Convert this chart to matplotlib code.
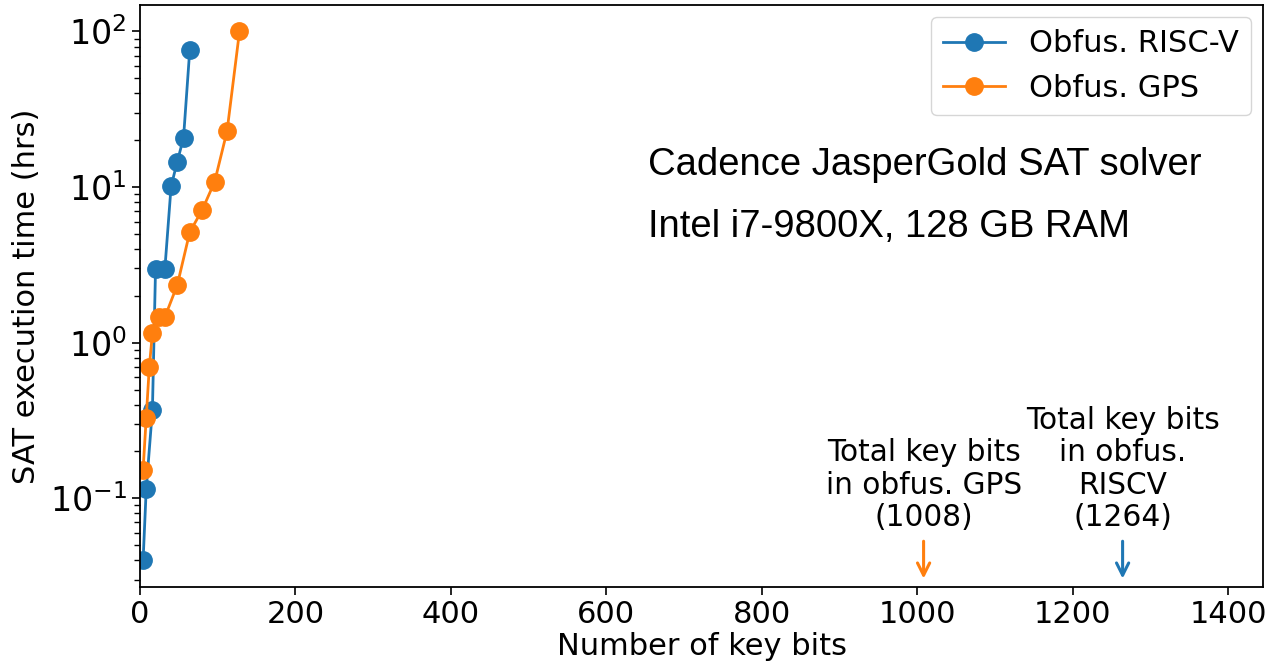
import matplotlib
matplotlib.use("Agg")
import matplotlib.pyplot as plt

# Key-bit counts and SAT solve times (hours)
riscv_bits = [4, 8, 16, 20, 32, 40, 48, 56, 64]
riscv_hours = [0.040, 0.114, 0.372, 2.98, 2.98, 10.1, 14.6, 20.7, 75.9]

gps_bits = [4, 8, 12, 16, 24, 32, 48, 64, 80, 96, 112, 128]
gps_hours = [0.153, 0.328, 0.70, 1.15, 1.46, 1.46, 2.35, 5.13, 7.13, 10.8, 22.9, 100.0]

# Total key bits of each obfuscated design
total_bits = {"GPS": 1008, "RISCV": 1264}
total_labels = {
    "GPS": "Total key bits\nin obfus. GPS\n(1008)",
    "RISCV": "Total key bits\nin obfus.\nRISCV\n(1264)",
}

BLUE = "#1f77b4"
ORANGE = "#ff7f0e"
FS = 22

fig = plt.figure(figsize=(12.68, 6.69), dpi=100)
ax = fig.add_axes([0.1104, 0.123, 0.8859, 0.8695])

ax.plot(riscv_bits, riscv_hours, "-o", color=BLUE, lw=2, ms=12.5, label="Obfus. RISC-V")
ax.plot(gps_bits, gps_hours, "-o", color=ORANGE, lw=2, ms=12.5, label="Obfus. GPS")
ax.set_yscale("log")
ax.set_xlim(0, 1445)

ax.set_xlabel("Number of key bits", fontsize=FS, labelpad=2)
ax.set_ylabel("SAT execution time (hrs)", fontsize=FS, labelpad=6)
ax.tick_params(axis="x", which="major", labelsize=FS)
ax.tick_params(axis="y", which="major", labelsize=24)
ax.tick_params(axis="both", which="major", length=6, width=1.2)
ax.tick_params(axis="both", which="minor", length=4, width=1.0)
for sp in ax.spines.values():
    sp.set_linewidth(1.3)

ax.legend(loc="upper right", fontsize=FS, borderaxespad=0.4)

# Arrows marking the total key bits of each design
for key, col in (("GPS", ORANGE), ("RISCV", BLUE)):
    xb = total_bits[key]
    ax.annotate("", xy=(xb, 0.0305), xytext=(xb, 0.053),
                arrowprops=dict(arrowstyle="->", color=col, lw=2.2,
                                shrinkA=0, shrinkB=0, mutation_scale=22))
    ax.text(xb, 0.0605, total_labels[key], ha="center", va="bottom",
            fontsize=21.3, linespacing=1.15)

ax.text(0.452, 0.708, "Cadence JasperGold SAT solver", transform=ax.transAxes,
        family="Liberation Sans", fontsize=27.5, ha="left", va="baseline")
ax.text(0.452, 0.601, "Intel i7-9800X, 128 GB RAM", transform=ax.transAxes,
        family="Liberation Sans", fontsize=27.5, ha="left", va="baseline")

fig.savefig("out.png", dpi=100)
